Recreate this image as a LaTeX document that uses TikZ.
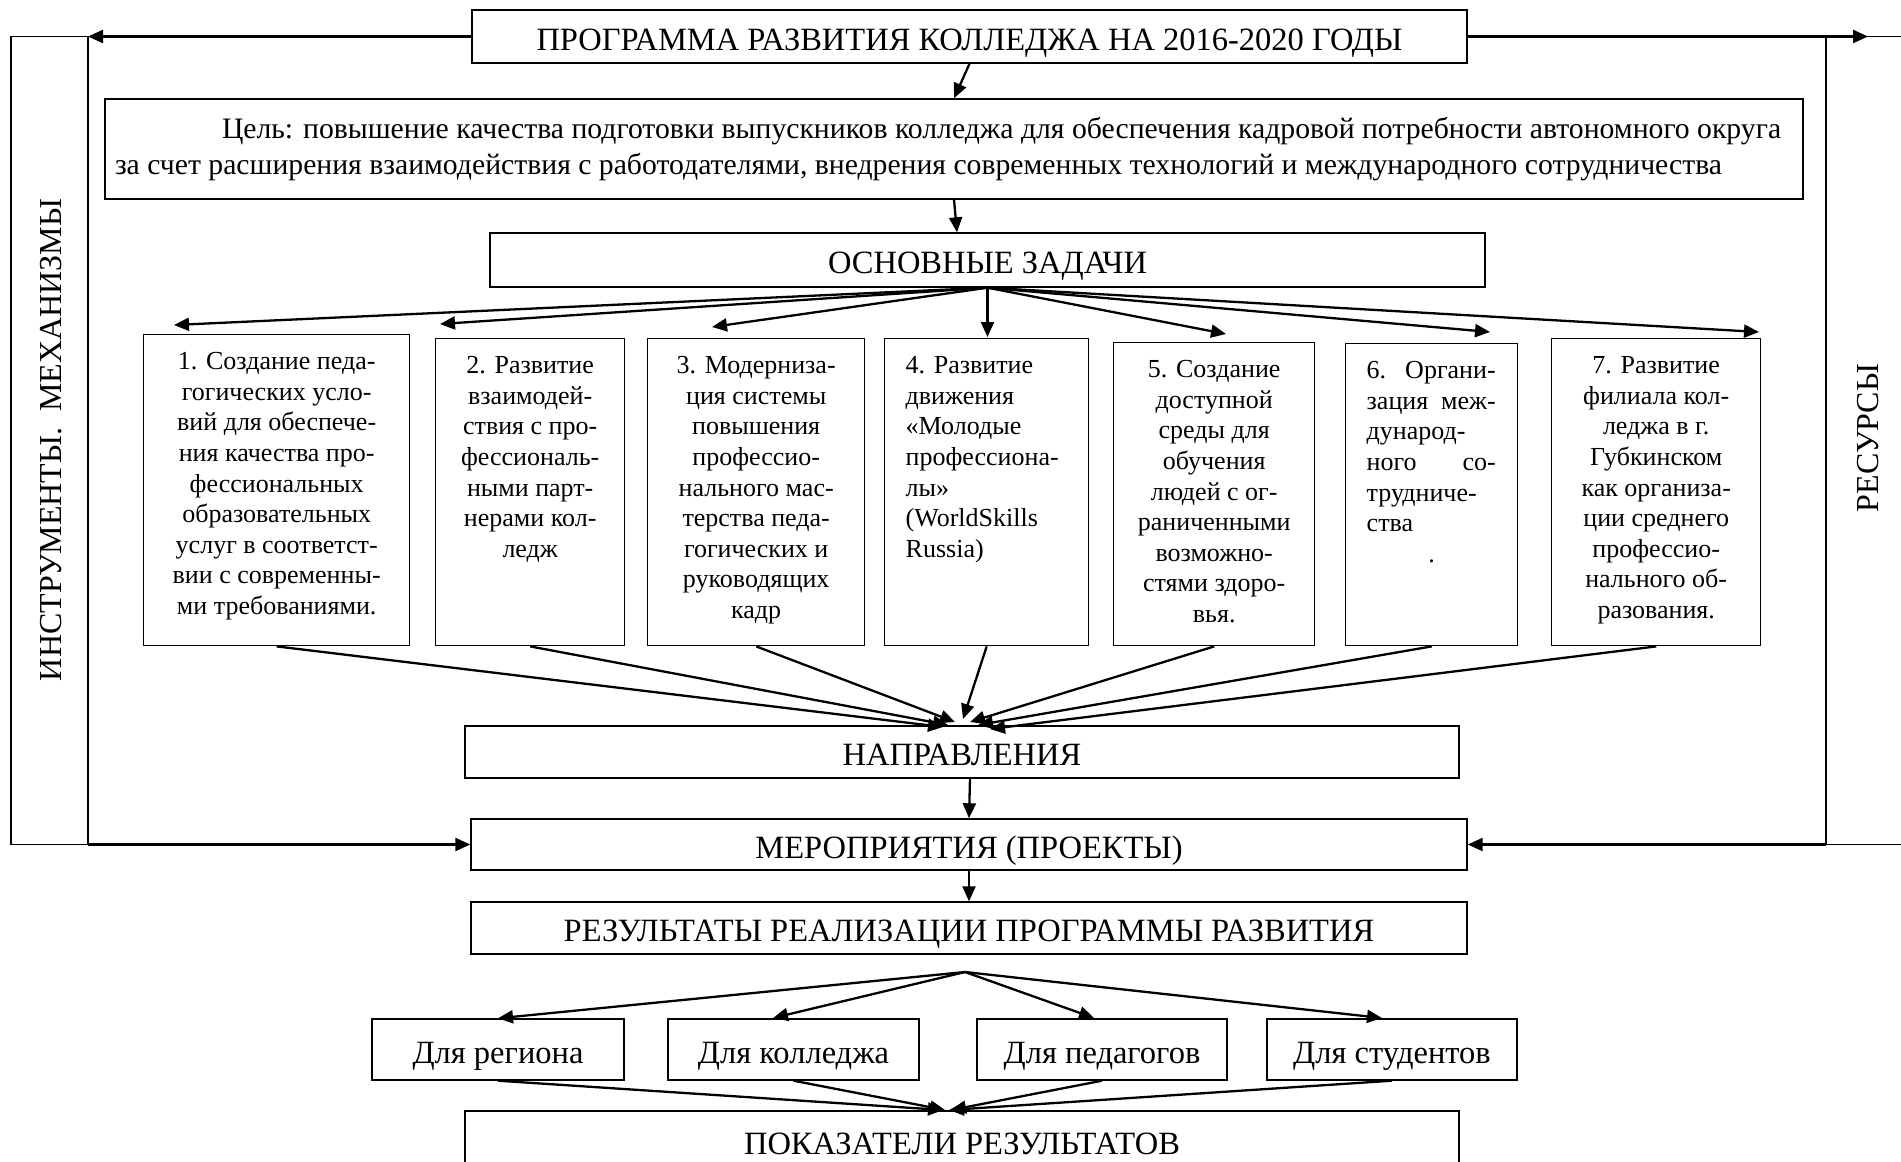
\documentclass[tikz,border=0pt]{standalone}
\usepackage{fontspec}
\setmainfont{Liberation Serif}
\usetikzlibrary{arrows.meta,calc}
\newcommand\taskcontent[4]{\parbox[c][#1][t]{#2}{#3\vspace*{13.6pt}\strut #4}}
\begin{document}
\begin{tikzpicture}[x=1pt,y=-1pt,
  box/.style={draw, line width=1.4pt, inner sep=0pt},
  mainbox/.style={box, font=\fontsize{32.5}{38}\selectfont, text height=27pt, text depth=0pt},
  smallbox/.style={mainbox, minimum width=251pt, minimum height=61pt},
  task/.style={box, font=\fontsize{26}{30.6}\selectfont, anchor=north west, inner ysep=0pt},
  arr/.style={line width=2.3pt, -{Triangle[length=15pt,width=13pt]}},
  frame/.style={line width=1.4pt},
  sidelabel/.style={rotate=90, font=\fontsize{32}{38}\selectfont},
]
\fill[white] (0,0) rectangle (1901,1162);
\useasboundingbox (0,0) rectangle (1901,1162);
\clip (0,0) rectangle (1901,1162);

% main boxes
\node[mainbox, minimum width=995pt, minimum height=53pt] (title) at (969.5,36.5) {ПРОГРАММА РАЗВИТИЯ КОЛЛЕДЖА НА 2016-2020 ГОДЫ};
\node[box, minimum width=1698pt, minimum height=100pt, inner xsep=10pt] (goal) at (954,149)
  {\parbox{1678pt}{\fontsize{29.7}{36}\selectfont\raggedright\hspace*{107pt}Цель: повышение качества подготовки выпускников колледжа для обеспечения кадровой потребности автономного округа\\за счет расширения взаимодействия с работодателями, внедрения современных технологий и международного сотрудничества}};
\node[mainbox, minimum width=995pt, minimum height=54pt] (tasks) at (987.5,260) {ОСНОВНЫЕ ЗАДАЧИ};
\node[mainbox, minimum width=994pt, minimum height=52pt] (dir) at (962,752) {НАПРАВЛЕНИЯ};
\node[mainbox, minimum width=996pt, minimum height=51pt] (meas) at (969,844.5) {МЕРОПРИЯТИЯ (ПРОЕКТЫ)};
\node[mainbox, minimum width=996pt, minimum height=52pt] (res) at (969,928) {РЕЗУЛЬТАТЫ РЕАЛИЗАЦИИ ПРОГРАММЫ РАЗВИТИЯ};
\node[smallbox, minimum width=252pt] (region) at (498,1049.5) {Для региона};
\node[smallbox, minimum width=251pt] (college) at (793.5,1049.5) {Для колледжа};
\node[smallbox, minimum width=250pt] (teachers) at (1102,1049.5) {Для педагогов};
\node[smallbox, minimum width=250pt] (students) at (1392,1049.5) {Для студентов};
\node[mainbox, minimum width=994pt, minimum height=60pt] (indic) at (962,1141) {ПОКАЗАТЕЛИ РЕЗУЛЬТАТОВ};

% task boxes
\node[task, inner xsep=10pt] (t1) at (143,334) {\taskcontent{311pt}{246pt}{\centering}{1. Создание педа-\\гогических усло-\\вий для обеспече-\\ния качества про-\\фессиональных\\образовательных\\услуг в соответст-\\вии с современны-\\ми требованиями.}};
\node[task, inner xsep=10pt] (t2) at (435,338) {\taskcontent{307pt}{169pt}{\centering}{2. Развитие\\взаимодей-\\ствия с про-\\фессиональ-\\ными парт-\\нерами кол-\\ледж}};
\node[task, inner xsep=10pt] (t3) at (647,338) {\taskcontent{307pt}{197pt}{\centering}{3. Модерниза-\\ция системы\\повышения\\профессио-\\нального мас-\\терства педа-\\гогических и\\руководящих\\кадр}};
\node[task, inner xsep=21pt] (t4) at (884,338) {\taskcontent{307pt}{162pt}{\raggedright}{4. Развитие\\движения\\«Молодые\\профессиона-\\лы»\\(WorldSkills\\Russia)}};
\node[task, inner xsep=10pt] (t5) at (1113,342) {\taskcontent{303pt}{181pt}{\centering}{5. Создание\\доступной\\среды для\\обучения\\людей с ог-\\раниченными\\возможно-\\стями здоро-\\вья.}};
\node[task, inner xsep=21pt] (t6) at (1345,343) {\taskcontent{302pt}{130pt}{\raggedright}{\makebox[129pt][l]{6.\hfill Органи-}\\\makebox[129pt][l]{зация\hfill меж-}\\дународ-\\\makebox[129pt][l]{ного\hfill со-}\\трудниче-\\ства\\\makebox[130pt][c]{.}}};
\node[task, inner xsep=10pt] (t7) at (1551,338) {\taskcontent{307pt}{189pt}{\centering}{7. Развитие\\филиала кол-\\леджа в г.\\Губкинском\\как организа-\\ции среднего\\профессио-\\нального об-\\разования.}};

% side labels
\node[sidelabel] (instr) at (51,440) {ИНСТРУМЕНТЫ.\ \ МЕХАНИЗМЫ};
\node[sidelabel] (resources) at (1868,438) {РЕСУРСЫ};

% frames
\coordinate (lt) at (88,36.5);
\coordinate (lb) at (88,844.5);
\coordinate (rt) at (1826,36.5);
\coordinate (rb) at (1826,844.5);
\coordinate (rtip) at (1868,36.5);
\draw[frame] (11,36.5) rectangle (lb);
\draw[frame] (1910,36.5) -- (rt) -- (rb) -- (1910,844.5);
\draw[arr] (title.west) -- (lt);
\draw[arr] (title.east) -- (rtip);
\draw[arr] (lb) -- (meas.west);
\draw[arr] (rb) -- (meas.east);

% vertical chain
\draw[arr] (title.south) -- (goal.north);
\draw[arr] (goal.south) -- ($(tasks.north)+(-30.5,0)$);
\draw[arr] ($(dir.south)+(8,0)$) -- (meas.north);
\draw[arr] (meas.south) -- (res.north);

% fan from tasks
\coordinate (a1) at (174,325);
\coordinate (a2) at (440,324);
\coordinate (a3) at (712,327);
\coordinate (a4) at (987.5,337);
\coordinate (a5) at (1226,334);
\coordinate (a6) at (1490,332);
\coordinate (a7) at (1759,332);
\foreach \i in {1,...,7} {\draw[arr] (tasks.south) -- (a\i);}

% fan into directions
\coordinate (d1) at (943,727);
\coordinate (d2) at (948,725);
\coordinate (d3) at (955,722);
\coordinate (d4) at (963,719);
\coordinate (d5) at (970,722);
\coordinate (d6) at (978,725);
\coordinate (d7) at (990,729);
\foreach \i in {1,...,7} {\draw[arr] (t\i.south) -- (d\i);}

% results fan
\coordinate (rf) at (965,972);
\coordinate (c2) at (773,1018);
\coordinate (c3) at (1094,1018);
\coordinate (c4) at (1382,1018);
\draw[arr] (rf) -- (region.north);
\draw[arr] (rf) -- (c2);
\draw[arr] (rf) -- (c3);
\draw[arr] (rf) -- (c4);

% into indicators
\coordinate (p1) at (943,1110);
\coordinate (p2) at (945,1110);
\coordinate (p3) at (951,1110);
\coordinate (p4) at (949,1110);
\draw[arr] (region.south) -- (p1);
\draw[arr] (college.south) -- (p2);
\draw[arr] (teachers.south) -- (p3);
\draw[arr] (students.south) -- (p4);
\end{tikzpicture}
\end{document}
